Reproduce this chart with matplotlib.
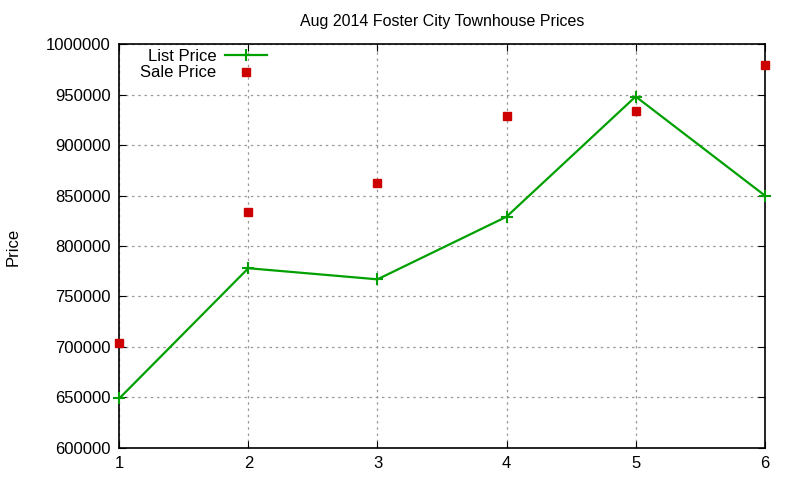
import matplotlib
matplotlib.use("Agg")
import matplotlib.pyplot as plt

plt.rcParams['font.family'] = ['Liberation Sans', 'DejaVu Sans']

months = [1, 2, 3, 4, 5, 6]
list_price = [649000, 778000, 767000, 829000, 948000, 850000]
sale_price = [704000, 834000, 862000, 929000, 934000, 979000]

fig = plt.figure(figsize=(8, 4.8), dpi=100)
ax = fig.add_axes([0.149, 0.0667, 0.807, 0.8416])

ax.plot(months, list_price, color="#00a000", lw=1.6, marker="+", ms=8, mew=1.5,
        label="List Price", clip_on=False, zorder=3)
ax.plot(months, sale_price, ls="none", color="#cc0000", marker="s", ms=5.5,
        label="Sale Price", clip_on=False, zorder=3)

ax.set_xlim(1, 6)
ax.set_ylim(600000, 1000000)
ax.set_xticks(months)
ax.set_yticks(range(600000, 1000001, 50000))
ax.ticklabel_format(style="plain", axis="y", useOffset=False)
ax.tick_params(direction="in", top=True, right=True, labelsize=12, length=5, pad=6)
ax.grid(True, color="#999999", ls=(0, (2, 3)), lw=0.9)
for s in ax.spines.values():
    s.set_linewidth(1.2)

ax.set_title("Aug 2014 Foster City Townhouse Prices", fontsize=11.5, pad=13)
fig.text(0.016, 0.485, "Price", rotation=90, fontsize=12, ha="center", va="center")

ax.legend(loc="upper right", bbox_to_anchor=(0.229, 0.987), markerfirst=False,
          frameon=False, fontsize=12, handlelength=2.5, handletextpad=0.55,
          labelspacing=0.07, borderaxespad=0.0, borderpad=0.0)

fig.savefig("out.png", dpi=100)
